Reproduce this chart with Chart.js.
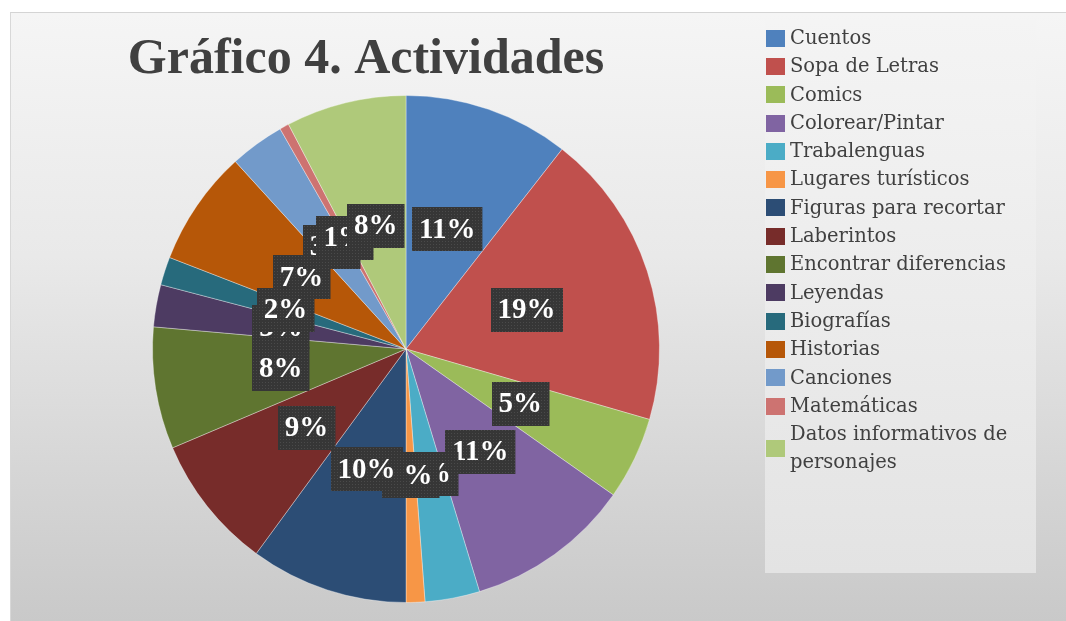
<!DOCTYPE html>
<html>
<head>
<meta charset="utf-8">
<title>Gráfico 4. Actividades</title>
<script src="https://cdn.jsdelivr.net/npm/chart.js@4.4.1/dist/chart.umd.min.js"></script>
<style>
  html, body { margin: 0; padding: 0; background: #fff; overflow: hidden; }
  #wrap { position: relative; width: 1066px; height: 621px; }
  #bg {
    position: absolute; left: 10px; top: 12px; right: 0; bottom: 0;
    background: linear-gradient(to bottom, #f5f5f5 0%, #e9e9e9 40%, #d6d6d6 75%, #c9c9c9 100%);
    border-top: 1px solid #d4d4d4; border-left: 1px solid #d8d8d8;
  }
  #legendBox {
    position: absolute; left: 765px; top: 20px; width: 271px; height: 553px;
    background: linear-gradient(to bottom, #f4f4f4 0%, #ececec 50%, #e3e3e3 100%);
  }
  #legend {
    position: absolute; left: 766px; top: 24px; width: 268px;
    font-family: "DejaVu Serif", serif; font-size: 19.5px; color: #404040;
    line-height: 28.3px;
  }
  #legend .item { display: flex; align-items: center; }
  #legend .sw { flex: 0 0 19px; height: 17px; margin-right: 5px; }
  #legend .tx { width: 240px; }
  canvas { position: absolute; left: 0; top: 0; }
</style>
</head>
<body>
<div id="wrap">
  <div id="bg"></div>
  <div id="legendBox"></div>
  <canvas id="pie" width="1066" height="621"></canvas>
  <div id="legend"></div>
</div>
<script>
// datos (porcentaje aproximado de cada actividad)
const chartTitle = 'Gráfico 4. Actividades';
const labels = [
  'Cuentos', 'Sopa de Letras', 'Comics', 'Colorear/Pintar', 'Trabalenguas',
  'Lugares turísticos', 'Figuras para recortar', 'Laberintos', 'Encontrar diferencias',
  'Leyendas', 'Biografías', 'Historias', 'Canciones', 'Matemáticas',
  'Datos informativos de personajes'
];
const values = [10.6, 19.0, 5.3, 10.6, 3.5, 1.2, 10.1, 8.6, 7.8, 2.7, 1.8, 7.4, 3.5, 0.6, 7.7];
const colors = [
  '#4F81BD', '#C0504D', '#9BBB59', '#8064A2', '#4BACC6',
  '#F79646', '#2C4D75', '#772C2A', '#5F7530', '#4D3B62',
  '#276A7C', '#B65708', '#729ACA', '#CD7371', '#AFC97A'
];

// textura punteada de las etiquetas
const pc = document.createElement('canvas');
pc.width = 3; pc.height = 3;
const pctx = pc.getContext('2d');
pctx.fillStyle = '#363636';
pctx.fillRect(0, 0, 3, 3);
pctx.fillStyle = '#4a4a4a';
pctx.fillRect(1, 1, 1, 1);

const titlePlugin = {
  id: 'sideTitle',
  afterDraw(chart) {
    const ctx = chart.ctx;
    ctx.save();
    ctx.font = 'bold 50px "Liberation Serif"';
    ctx.fillStyle = '#404040';
    ctx.textAlign = 'center';
    ctx.textBaseline = 'alphabetic';
    ctx.fillText(chartTitle, 366, 73);
    ctx.restore();
  }
};

const pctLabels = {
  id: 'pctLabels',
  afterDatasetsDraw(chart) {
    const ctx = chart.ctx;
    const meta = chart.getDatasetMeta(0);
    const total = values.reduce((a, b) => a + b, 0);
    const pattern = ctx.createPattern(pc, 'repeat');
    ctx.save();
    ctx.font = 'bold 29px "Liberation Serif"';
    ctx.textAlign = 'center';
    ctx.textBaseline = 'middle';
    meta.data.forEach((arc, i) => {
      const p = arc.tooltipPosition();
      const txt = Math.round(values[i] / total * 100) + '%';
      const w = ctx.measureText(txt).width + 14;
      const h = 44;
      ctx.fillStyle = pattern;
      ctx.fillRect(Math.round(p.x - w / 2), Math.round(p.y - h / 2), w, h);
      ctx.fillStyle = '#ffffff';
      ctx.fillText(txt, p.x, p.y + 1);
    });
    ctx.restore();
  }
};

const chart = new Chart(document.getElementById('pie').getContext('2d'), {
  type: 'pie',
  data: {
    labels: labels,
    datasets: [{
      data: values,
      backgroundColor: colors,
      borderColor: 'rgba(255,255,255,0.35)',
      borderWidth: 1
    }]
  },
  options: {
    responsive: false,
    animation: false,
    layout: { padding: { left: 152, right: 406, top: 95, bottom: 18 } },
    plugins: {
      legend: { display: false },
      tooltip: { enabled: false },
      title: { display: false }
    }
  },
  plugins: [titlePlugin, pctLabels]
});

// leyenda a la derecha
const legendEl = document.getElementById('legend');
labels.forEach((lab, i) => {
  const row = document.createElement('div');
  row.className = 'item';
  const sw = document.createElement('span');
  sw.className = 'sw';
  sw.style.background = colors[i];
  const tx = document.createElement('span');
  tx.className = 'tx';
  tx.textContent = lab;
  row.appendChild(sw);
  row.appendChild(tx);
  legendEl.appendChild(row);
});
</script>
</body>
</html>
